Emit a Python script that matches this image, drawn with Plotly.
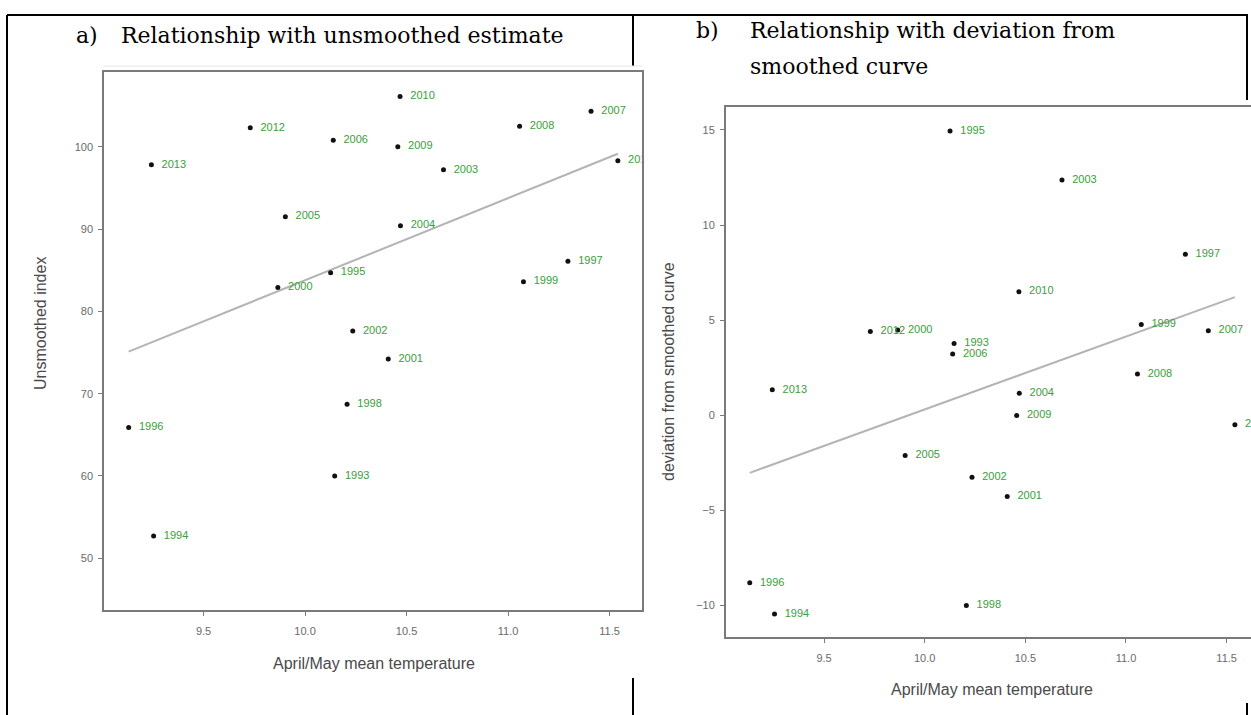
import numpy as np
import plotly.graph_objects as go

# ---------------- data ----------------
years = [1993, 1994, 1995, 1996, 1997, 1998, 1999, 2000, 2001, 2002, 2003,
         2004, 2005, 2006, 2007, 2008, 2009, 2010, 2011, 2012, 2013]
temp = [10.146, 9.254, 10.126, 9.131, 11.295, 10.207, 11.076, 9.866, 10.410, 10.235, 10.682,
        10.470, 9.903, 10.139, 11.409, 11.057, 10.457, 10.468, 11.541, 9.730, 9.243]
unsmoothed = [60.0, 52.7, 84.7, 65.9, 86.1, 68.7, 83.6, 82.9, 74.2, 77.6, 97.2,
              90.4, 91.5, 100.8, 104.3, 102.5, 100.0, 106.1, 98.3, 102.3, 97.8]
deviation = [3.77, -10.47, 14.95, -8.83, 8.46, -10.02, 4.77, 4.47, -4.28, -3.27, 12.37,
             1.15, -2.13, 3.21, 4.44, 2.16, -0.03, 6.49, -0.51, 4.39, 1.33]

xticks = [9.5, 10.0, 10.5, 11.0, 11.5]
yticks_a = [50, 60, 70, 80, 90, 100]
yticks_b = [-10, -5, 0, 5, 10, 15]

title_a = "a)"
title_a2 = "Relationship with unsmoothed estimate"
title_b = "b)"
title_b2_line1 = "Relationship with deviation from"
title_b2_line2 = "smoothed curve"
xlabel = "April/May mean temperature"
ylabel_a = "Unsmoothed index"
ylabel_b = "deviation from smoothed curve"

# ---------------- layout helpers ----------------
W, H = 1251, 715
def px(x):
    return x / W
def py(y):
    return 1 - y / H

POINT = "#111111"
LABEL = "#3a9e3a"
FRAME = "#7a7a7a"
FIT = "#b4b4b4"
TICKC = "#6a6a6a"
SANS = "Liberation Sans, Arial, sans-serif"
SERIF = "DejaVu Serif, serif"

fig = go.Figure()

def add_panel(xa, ya, yvals):
    xs = np.array(temp)
    ys = np.array(yvals)
    k, b = np.polyfit(xs, ys, 1)
    xl = np.array([xs.min(), xs.max()])
    fig.add_trace(go.Scatter(x=xl, y=k * xl + b, mode="lines",
                             line=dict(color=FIT, width=2),
                             xaxis=xa, yaxis=ya, hoverinfo="skip", showlegend=False))
    fig.add_trace(go.Scatter(x=temp, y=yvals, mode="markers+text",
                             text=["\u00a0\u00a0" + str(yr) for yr in years],
                             textposition="middle right",
                             textfont=dict(family=SANS, size=11, color=LABEL),
                             marker=dict(color=POINT, size=5),
                             cliponaxis=True,
                             xaxis=xa, yaxis=ya, showlegend=False))

add_panel("x", "y", unsmoothed)
add_panel("x2", "y2", deviation)

axis_common = dict(showgrid=False, zeroline=False, showline=True, linecolor=FRAME,
                   linewidth=2, ticks="outside", ticklen=4, tickcolor=FRAME, tickwidth=1,
                   tickfont=dict(family=SANS, size=11, color=TICKC))

fig.update_layout(
    width=W, height=H,
    margin=dict(l=0, r=0, t=0, b=0),
    paper_bgcolor="white", plot_bgcolor="white",
    showlegend=False,
    xaxis=dict(domain=[px(104.3), px(641.8)], range=[9.011, 11.659], anchor="y",
               tickvals=xticks, ticktext=[f"{v:.1f}" for v in xticks], mirror=True,
               ticklabelstandoff=6, **axis_common),
    yaxis=dict(domain=[py(610), py(72.3)], range=[43.72, 109.04], anchor="x",
               tickvals=yticks_a, mirror=True, ticklabelstandoff=3, **axis_common),
    xaxis2=dict(domain=[px(726), 1.0], range=[9.013, 9.013 + (W - 726) / 201.3], anchor="y2",
                tickvals=xticks, ticktext=[f"{v:.1f}" for v in xticks], mirror=True,
                ticklabelstandoff=6, **axis_common),
    yaxis2=dict(domain=[py(637), py(107)], range=[-11.68, 16.21], anchor="x2",
                tickvals=yticks_b, mirror=False, ticklabelstandoff=3, **axis_common),
)

# table borders of the source document
shapes = []
def vline(x, y0, y1, color="black", w=2):
    shapes.append(dict(type="line", xref="paper", yref="paper", x0=px(x), x1=px(x),
                       y0=py(y0), y1=py(y1), line=dict(color=color, width=w)))
def hline(y, x0, x1, color="black", w=2):
    shapes.append(dict(type="line", xref="paper", yref="paper", x0=px(x0), x1=px(x1),
                       y0=py(y), y1=py(y), line=dict(color=color, width=w)))

hline(15, 7, 1248)
vline(7, 15, 715)
vline(633, 15, 66)
vline(633, 678, 715)
vline(1247, 15, 100)
vline(1247, 703, 715)
hline(66, 103, 642, color="#e4e4e4", w=1)
fig.update_layout(shapes=shapes)

def text_ann(text, x, y, font, xanchor="left", angle=0):
    return dict(text=text, x=px(x), y=py(y), xref="paper", yref="paper",
                xanchor=xanchor, yanchor="middle", textangle=angle, showarrow=False,
                font=font)

tfont = dict(family=SERIF, size=22, color="black")
lfont = dict(family=SANS, size=16, color="#4a4a4a")
ann = [
    text_ann(title_a, 74, 36, tfont),
    text_ann(title_a2, 119, 36, tfont),
    text_ann(title_b, 694, 31, tfont),
    text_ann(title_b2_line1, 748, 31, tfont),
    text_ann(title_b2_line2, 748, 67, tfont),
    text_ann(xlabel, 374, 663, lfont, xanchor="center"),
    text_ann(xlabel, 992, 689, lfont, xanchor="center"),
    text_ann(ylabel_a, 40, 324, lfont, xanchor="center", angle=-90),
    text_ann(ylabel_b, 668, 372, lfont, xanchor="center", angle=-90),
]
fig.update_layout(annotations=ann)

fig.write_html("out.html")
